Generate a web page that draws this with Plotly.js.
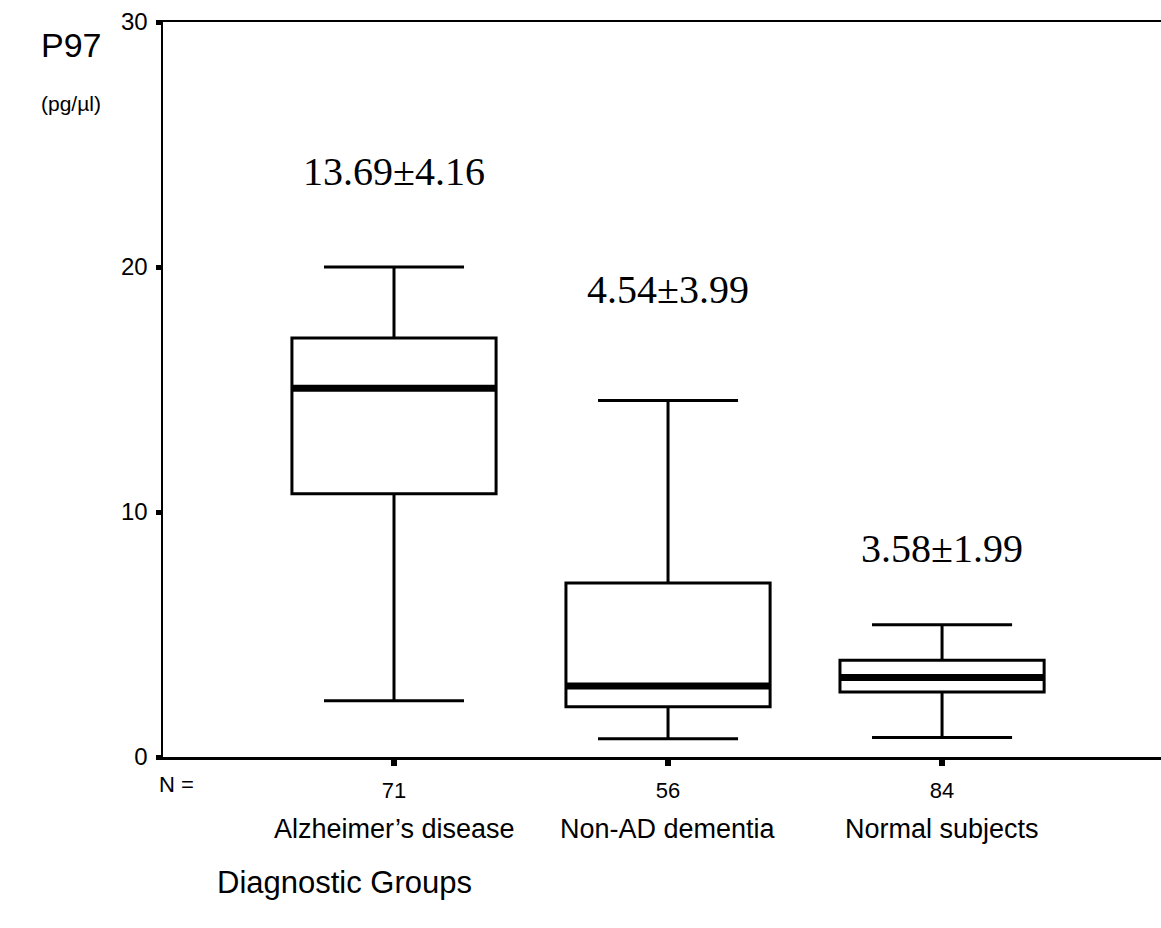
<!DOCTYPE html>
<html>
<head>
<meta charset="utf-8">
<script src="https://cdn.plot.ly/plotly-3.0.1.min.js"></script>
<style>html,body{margin:0;padding:0;background:#fff;}#chart{width:1161px;height:928px;}</style>
</head>
<body>
<div id="chart"></div>
<script>
const groups = ["Alzheimer\u2019s disease", "Non-AD dementia", "Normal subjects"];
const counts = ["71", "56", "84"];
const lowerWhisker = [2.3, 0.75, 0.8];
const q1 = [10.75, 2.05, 2.65];
const median = [15.05, 2.9, 3.25];
const q3 = [17.1, 7.1, 3.95];
const upperWhisker = [20.0, 14.55, 5.4];
const meanSd = ["13.69\u00b14.16", "4.54\u00b13.99", "3.58\u00b11.99"];
const yTicks = [0, 10, 20, 30];

const pos = groups.map((g, i) => i);
const labelY = [23.9, 19.1, 8.5];

const boxes = {
  type: 'box', x: pos,
  q1: q1, median: median, q3: q3,
  lowerfence: lowerWhisker, upperfence: upperWhisker,
  line: {color: '#000', width: 3},
  fillcolor: 'rgba(0,0,0,0)',
  whiskerwidth: 0.686,
  hoverinfo: 'skip', showlegend: false
};
const medians = {
  type: 'box', x: pos,
  q1: median, median: median, q3: median,
  lowerfence: median, upperfence: median,
  line: {color: '#000', width: 7},
  fillcolor: 'rgba(0,0,0,0)',
  whiskerwidth: 0,
  hoverinfo: 'skip', showlegend: false
};

const sans = 'Liberation Sans, Arial, sans-serif';
const annotations = [];
meanSd.forEach((t, i) => annotations.push({
  x: pos[i], y: labelY[i], xref: 'x', yref: 'y', text: t, showarrow: false,
  font: {family: 'Liberation Serif, Times New Roman, serif', size: 40, color: '#000'}
}));
groups.forEach((g, i) => annotations.push({
  x: pos[i], y: -0.098, xref: 'x', yref: 'paper', text: g, showarrow: false,
  yanchor: 'middle',
  font: {family: sans, size: 27, color: '#000'}
}));
annotations.push(
  {xref: 'paper', yref: 'paper', x: 0.014, y: -0.038, xanchor: 'center', yanchor: 'middle',
   text: 'N =', showarrow: false, font: {family: sans, size: 22, color: '#000'}},
  {xref: 'paper', yref: 'paper', x: 0.052, y: -0.171, xanchor: 'left', yanchor: 'middle',
   text: 'Diagnostic Groups', showarrow: false, font: {family: sans, size: 31, color: '#000'}},
  {xref: 'paper', yref: 'paper', x: -0.124, y: 0.969, xanchor: 'left', yanchor: 'middle',
   text: 'P97', showarrow: false, font: {family: sans, size: 34, color: '#000'}},
  {xref: 'paper', yref: 'paper', x: -0.124, y: 0.889, xanchor: 'left', yanchor: 'middle',
   text: '(pg/\u00b5l)', showarrow: false, font: {family: sans, size: 21, color: '#000'}}
);

const layout = {
  width: 1161, height: 928,
  margin: {l: 163, r: 0, t: 22, b: 171},
  paper_bgcolor: '#fff', plot_bgcolor: '#fff',
  boxmode: 'overlay', boxgap: 0.255, boxgroupgap: 0,
  showlegend: false,
  xaxis: {
    range: [-0.843, 2.799], tickvals: pos, ticktext: counts,
    showline: true, linecolor: '#000', linewidth: 2.5, mirror: true,
    ticks: 'outside', ticklen: 6, tickwidth: 6, tickcolor: '#000',
    showgrid: false, zeroline: false,
    tickfont: {family: sans, size: 22, color: '#000'},
    ticklabelstandoff: 6
  },
  yaxis: {
    range: [0, 30], tickvals: yTicks,
    showline: true, linecolor: '#000', linewidth: 2.5,
    ticks: 'outside', ticklen: 5, tickwidth: 5, tickcolor: '#000',
    showgrid: false, zeroline: false,
    tickfont: {family: sans, size: 24, color: '#000'},
    ticklabelstandoff: 3
  },
  annotations: annotations
};

Plotly.newPlot('chart', [boxes, medians], layout, {staticPlot: true, displayModeBar: false});
</script>
</body>
</html>
